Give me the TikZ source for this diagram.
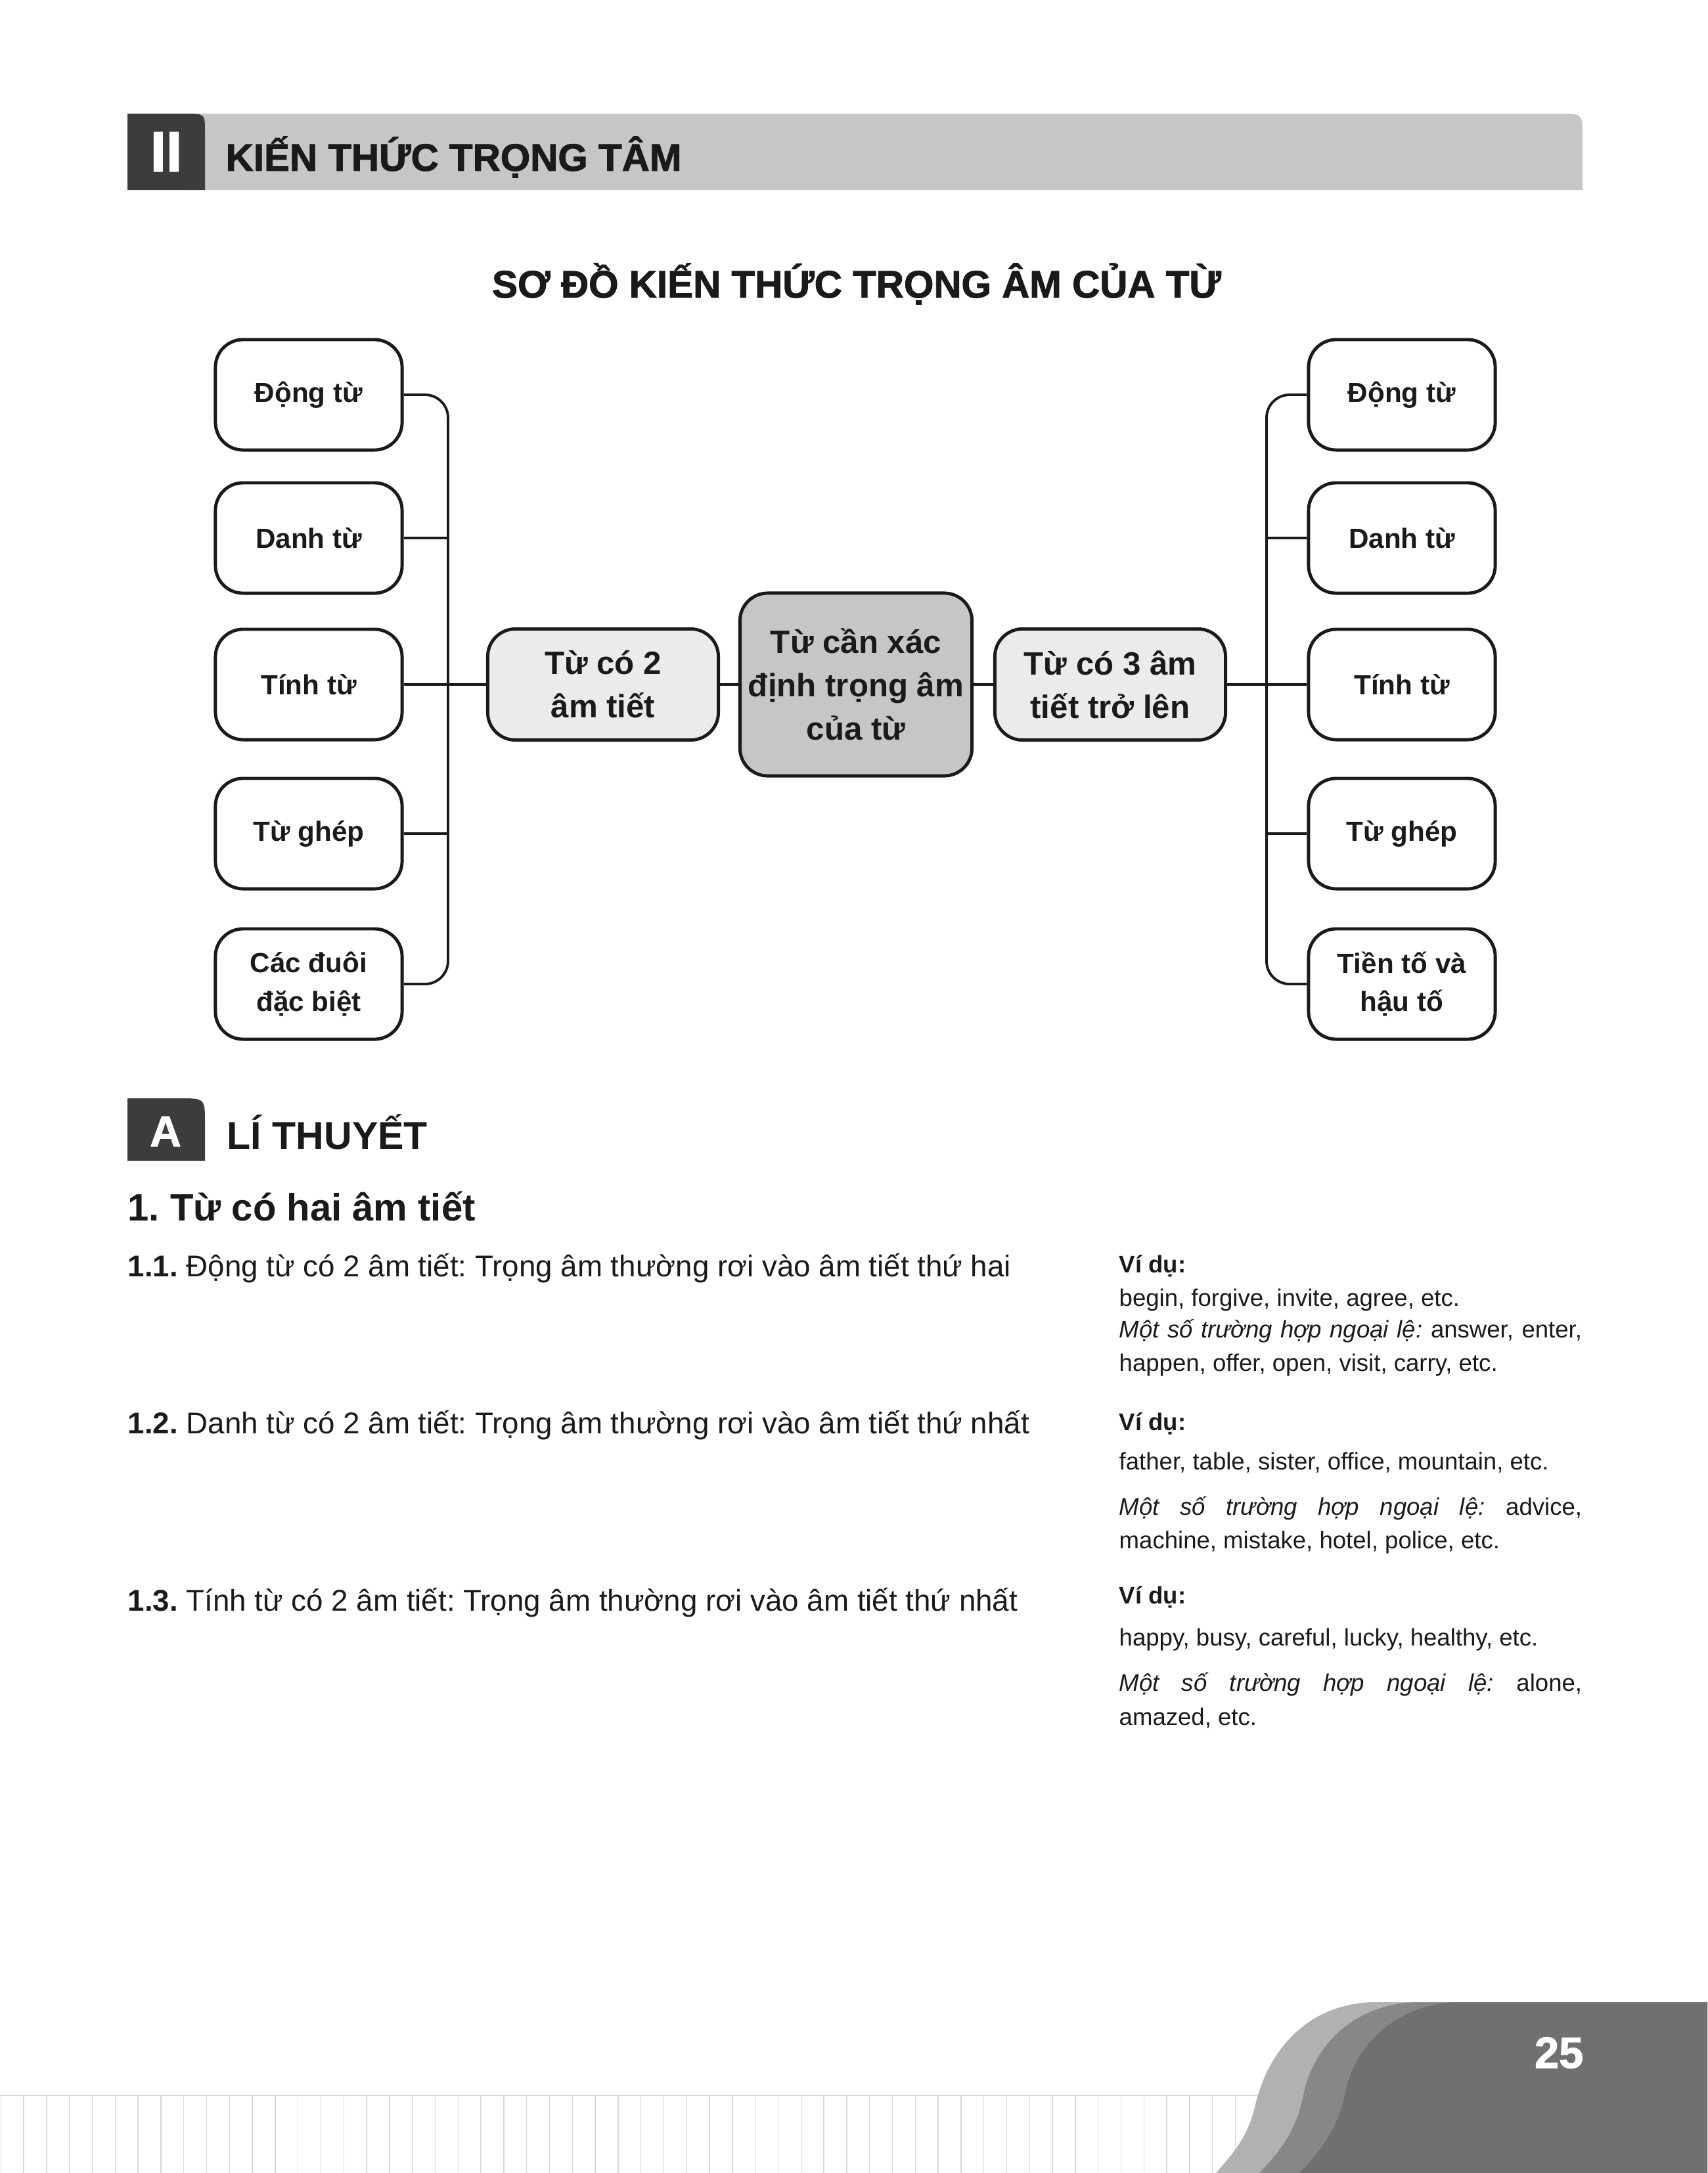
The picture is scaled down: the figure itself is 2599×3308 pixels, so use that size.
\documentclass[tikz,border=0pt]{standalone}
\usepackage{fontspec}
\setmainfont{Liberation Sans}
\newfontfamily\heavyfont[BoldFeatures={FakeBold=1.6}]{Liberation Sans}
\frenchspacing

\definecolor{ink}{HTML}{1A1A1A}
\definecolor{bargray}{HTML}{C6C6C6}
\definecolor{tabdark}{HTML}{3C3C3B}
\definecolor{midgray}{HTML}{EBEBEB}
\definecolor{rootgray}{HTML}{C6C6C6}
\definecolor{footdark}{HTML}{707070}
\definecolor{footmid}{HTML}{878787}
\definecolor{footlight}{HTML}{B1B1B1}
\definecolor{gridgray}{HTML}{D9D9D9}

\tikzset{
  leafbox/.style={draw=ink, line width=1.4pt, rounded corners=0.42cm, fill=white,
    minimum width=2.84cm, minimum height=1.68cm, inner sep=0pt, align=center,
    text=ink, font=\fontsize{12}{16.5}\selectfont\bfseries},
  midbox/.style={leafbox, fill=midgray, minimum width=3.51cm, minimum height=1.69cm,
    font=\fontsize{14}{18.8}\selectfont\bfseries},
  rootbox/.style={midbox, fill=rootgray, minimum width=3.53cm, minimum height=2.78cm},
  link/.style={draw=ink, line width=1.1pt, rounded corners=0.35cm},
  bodytext/.style={anchor=base west, inner sep=0pt, text=ink, font=\fontsize{13}{16}\selectfont},
  notetext/.style={anchor=base west, inner sep=0pt, text=ink, font=\fontsize{10.4}{13}\selectfont},
  heading/.style={inner sep=0pt, text=ink, font=\heavyfont\fontsize{16.6}{20}\selectfont\bfseries},
}

\begin{document}
\begin{tikzpicture}[x=0.01cm, y=-0.01cm]

  % ====== 1) page ======
  \fill[white] (0,0) rectangle (2599,3308);
  \useasboundingbox (0,0) rectangle (2599,3308);

  % ====== 2) section bar II ======
  \fill[bargray] (281,289) -- (281,173) -- (2374,173) .. controls (2409,173) .. (2409,208) -- (2409,289) -- cycle;
  \fill[tabdark] (194,289) -- (194,173) -- (281,173) .. controls (312,173) .. (312,200) -- (312,289) -- cycle;
  \node[anchor=base, inner sep=0pt, text=white, font=\heavyfont\fontsize{24.7}{26}\selectfont\bfseries]
    (tabII) at (253,261) {II};
  \node[heading, anchor=base west] (barTitle) at (343,260) {KIẾN THỨC TRỌNG TÂM};

  % ====== 3) diagram title ======
  \node[heading, anchor=base] (mapTitle) at (1304,453) {SƠ ĐỒ KIẾN THỨC TRỌNG ÂM CỦA TỪ};

  % ====== 4) mind map nodes ======
  \node[rootbox] (root) at (1303,1042) {Từ cần xác\\định trọng âm\\của từ};
  \node[midbox] (two)   at (918,1042)  {Từ có 2\\âm tiết};
  \node[midbox] (three) at (1690,1042) {Từ có 3 âm\\tiết trở lên};

  \node[leafbox] (l1) at (470,601)  {Động từ};
  \node[leafbox] (l2) at (470,819)  {Danh từ};
  \node[leafbox] (l3) at (470,1042) {Tính từ};
  \node[leafbox] (l4) at (470,1269) {Từ ghép};
  \node[leafbox] (l5) at (470,1498) {Các đuôi\\đặc biệt};

  \node[leafbox] (r1) at (2134,601)  {Động từ};
  \node[leafbox] (r2) at (2134,819)  {Danh từ};
  \node[leafbox] (r3) at (2134,1042) {Tính từ};
  \node[leafbox] (r4) at (2134,1269) {Từ ghép};
  \node[leafbox] (r5) at (2134,1498) {Tiền tố và\\hậu tố};

  % ====== 5) connectors ======
  \coordinate (ltrunk) at (682,0);
  \coordinate (rtrunk) at (1928,0);
  \draw[link] (l1.east) -| (ltrunk |- l5.east) -- (l5.east);
  \draw[link] (l2.east) -- (l2.east -| ltrunk);
  \draw[link] (l4.east) -- (l4.east -| ltrunk);
  \draw[link] (l3.east) -- (two.west);
  \draw[link] (two.east) -- (root.west);
  \draw[link] (root.east) -- (three.west);
  \draw[link] (three.east) -- (r3.west);
  \draw[link] (r1.west) -| (rtrunk |- r5.west) -- (r5.west);
  \draw[link] (r2.west) -- (r2.west -| rtrunk);
  \draw[link] (r4.west) -- (r4.west -| rtrunk);

  % ====== 6) section A ======
  \fill[tabdark] (194,1767) -- (194,1672) -- (274,1672) .. controls (312,1672) .. (312,1710) -- (312,1767) -- cycle;
  \node[anchor=base, inner sep=0pt, text=white, font=\heavyfont\fontsize{18.7}{20}\selectfont\bfseries]
    (tabA) at (252,1745) {A};
  \node[anchor=base west, inner sep=0pt, text=ink, font=\fontsize{16.8}{20}\selectfont\bfseries]
    (secA) at (345,1749) {LÍ THUYẾT};
  \node[anchor=base west, inner sep=0pt, text=ink, font=\fontsize{16.5}{20}\selectfont\bfseries]
    (part1) at (194,1858) {1. Từ có hai âm tiết};

  % ====== 7) rules ======
  \node[bodytext] (rule1) at (194,1943) {\textbf{1.1.} Động từ có 2 âm tiết: Trọng âm thường rơi vào âm tiết thứ hai};
  \node[bodytext] (rule2) at (194,2182) {\textbf{1.2.} Danh từ có 2 âm tiết: Trọng âm thường rơi vào âm tiết thứ nhất};
  \node[bodytext] (rule3) at (194,2452) {\textbf{1.3.} Tính từ có 2 âm tiết: Trọng âm thường rơi vào âm tiết thứ nhất};

  % ====== 8) examples ======
  \node[notetext] (ex1a) at (1703,1937) {\textbf{Ví dụ:}};
  \node[notetext] (ex1b) at (1703,1988) {begin, forgive, invite, agree, etc.};
  \node[notetext] (ex1c) at (1703,2036) {\makebox[7.04cm][s]{\textit{Một số trường hợp ngoại lệ:} answer, enter,}};
  \node[notetext] (ex1d) at (1703,2087) {happen, offer, open, visit, carry, etc.};

  \node[notetext] (ex2a) at (1703,2177) {\textbf{Ví dụ:}};
  \node[notetext] (ex2b) at (1703,2237) {father, table, sister, office, mountain, etc.};
  \node[notetext] (ex2c) at (1703,2306) {\makebox[7.04cm][s]{\textit{Một số trường hợp ngoại lệ:} advice,}};
  \node[notetext] (ex2d) at (1703,2357) {machine, mistake, hotel, police, etc.};

  \node[notetext] (ex3a) at (1703,2441) {\textbf{Ví dụ:}};
  \node[notetext] (ex3b) at (1703,2505) {happy, busy, careful, lucky, healthy, etc.};
  \node[notetext] (ex3c) at (1703,2574) {\makebox[7.04cm][s]{\textit{Một số trường hợp ngoại lệ:} alone,}};
  \node[notetext] (ex3d) at (1703,2626) {amazed, etc.};

  % ====== 9) footer grid and waves ======
  \draw[gridgray, line width=0.5pt] (0,3190) -- (1950,3190);
  \foreach \i in {0,...,55} {
    \draw[gridgray, line width=0.4pt] ({1.3+34.8*\i},3190) -- ({1.3+34.8*\i},3308);
  }
  \fill[footlight] (2599,3048) -- (2090,3048) .. controls (2000,3050) and (1935,3110) .. (1912,3200)
    .. controls (1900,3255) and (1875,3280) .. (1851,3308) -- (2599,3308) -- cycle;
  \fill[footmid] (2599,3048) -- (2157,3048) .. controls (2065,3050) and (2000,3110) .. (1984,3190)
    .. controls (1972,3250) and (1943,3280) .. (1917,3308) -- (2599,3308) -- cycle;
  \fill[footdark] (2599,3048) -- (2218,3048) .. controls (2130,3050) and (2063,3110) .. (2048,3185)
    .. controls (2036,3245) and (2005,3280) .. (1978,3308) -- (2599,3308) -- cycle;
  \node[anchor=base east, inner sep=0pt, text=white, font=\heavyfont\fontsize{19}{20}\selectfont\bfseries]
    (pageNo) at (2411,3148) {25};

\end{tikzpicture}
\end{document}
